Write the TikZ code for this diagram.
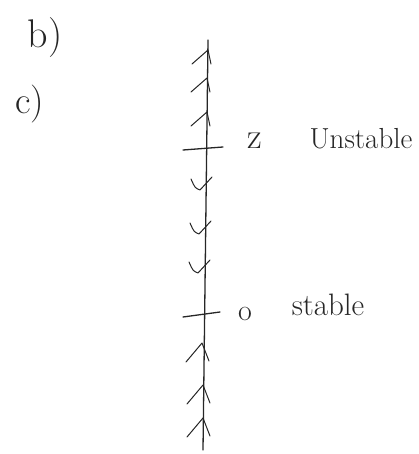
\documentclass[tikz,border=0pt]{standalone}
\usepackage{fontspec}
\begin{document}
\begin{tikzpicture}[x=1pt,y=-1pt,
  ink/.style={line width=1.3pt,draw=black!85,line cap=round,line join=round},
  hand/.style={inner sep=0pt,text=black!85},
  chev/.style={ink,line width=1pt}]
\useasboundingbox (0,0) rectangle (418,454);
% phase line
\coordinate (top) at (208,40);
\coordinate (bot) at (203,450);
\draw[ink] (top) -- (bot);
% equilibrium ticks
\coordinate (zl) at (183,150); \coordinate (zr) at (223,147);
\coordinate (ol) at (183,317); \coordinate (or) at (220,312);
\draw[ink] (zl) -- (zr);
\draw[ink] (ol) -- (or);
% up arrows above z
\foreach \x/\y in {208/50,207/78,207/112}{
  \draw[chev] (\x-16,\y+14) -- (\x,\y) -- (\x+3,\y+14);
}
% down arrows between z and 0
\foreach \x/\y in {205/190,204/234,203/273}{
  \draw[chev] (\x-14,\y-11) .. controls (\x-10,\y-2) .. (\x-5,\y) -- (\x+7,\y-13);
}
% up arrows below 0
\foreach \x/\y in {202/343,203/385,203/418}{
  \draw[chev] (\x-16,\y+19) -- (\x,\y) -- (\x+7,\y+18);
}
% labels
\node[hand,font=\fontsize{40}{44}\selectfont] (b) at (45,38) {b)};
\node[hand,font=\fontsize{38}{42}\selectfont] (c) at (30,104) {c)};
\node[hand,font=\fontsize{36}{40}\selectfont] (z) at (255,141) {z};
\node[hand,font=\fontsize{29}{33}\selectfont] (u) at (361,139) {Unstable};
\node[hand,font=\fontsize{30}{34}\selectfont] (o) at (245,314) {o};
\node[hand,font=\fontsize{31}{35}\selectfont] (s) at (328,305) {stable};
\end{tikzpicture}
\end{document}
